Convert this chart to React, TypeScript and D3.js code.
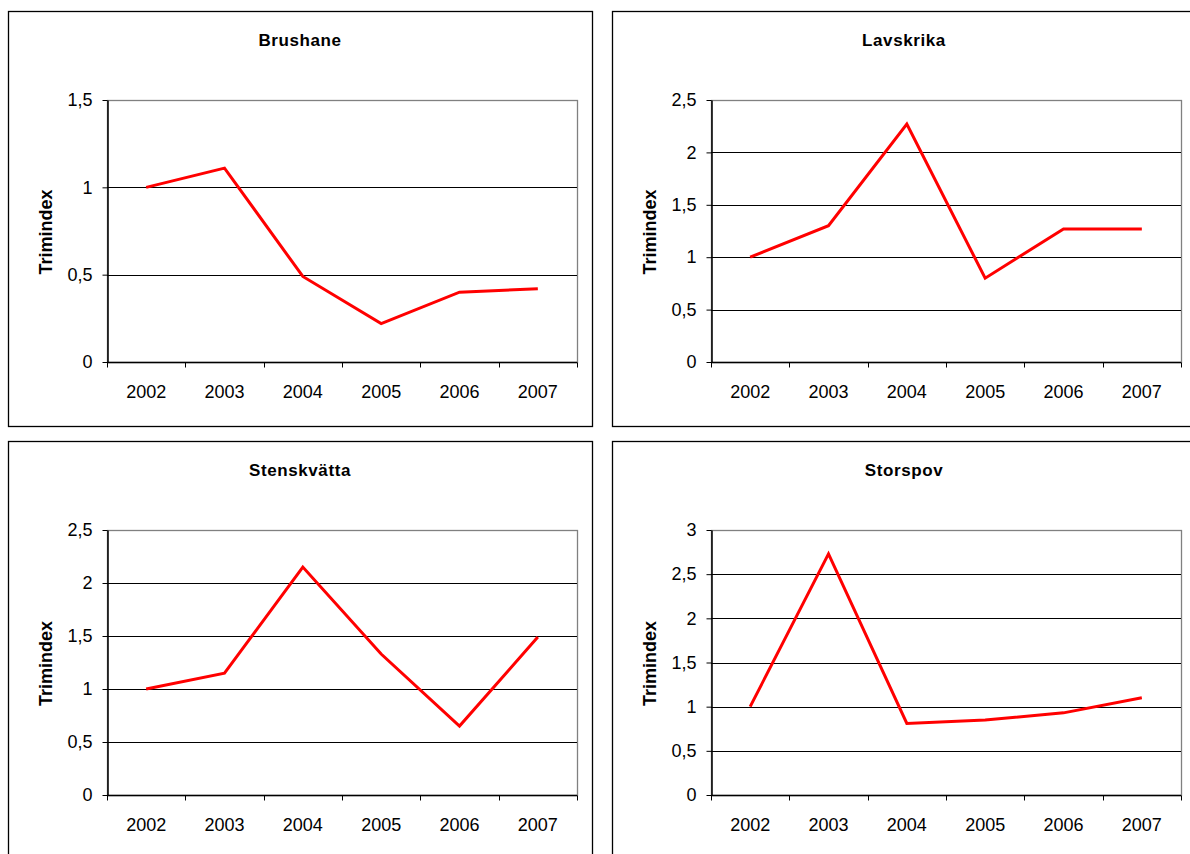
import * as d3 from "d3";
import {useEffect, useRef} from "react";

// values
const years = ["2002", "2003", "2004", "2005", "2006", "2007"];
const brushane = [1.0, 1.11, 0.49, 0.22, 0.40, 0.42];
const lavskrika = [1.0, 1.30, 2.27, 0.80, 1.27, 1.27];
const stenskvatta = [1.0, 1.15, 2.15, 1.33, 0.65, 1.49];
const storspov = [1.0, 2.73, 0.81, 0.85, 0.93, 1.10];

const brushaneTicks = [0, 0.5, 1, 1.5];
const lavskrikaTicks = [0, 0.5, 1, 1.5, 2, 2.5];
const stenskvattaTicks = [0, 0.5, 1, 1.5, 2, 2.5];
const storspovTicks = [0, 0.5, 1, 1.5, 2, 2.5, 3];

const FONT = "'Liberation Sans', Arial, sans-serif";

const panels = [
    {title: "Brushane", values: brushane, ticks: brushaneTicks, x: 8, y: 11, h: 415, plotH: 262},
    {title: "Lavskrika", values: lavskrika, ticks: lavskrikaTicks, x: 612, y: 11, h: 415, plotH: 262},
    {title: "Stenskvätta", values: stenskvatta, ticks: stenskvattaTicks, x: 8, y: 441, h: 440, plotH: 265},
    {title: "Storspov", values: storspov, ticks: storspovTicks, x: 612, y: 441, h: 440, plotH: 265},
];

const App = () => {
    const svgRef = useRef(null);

    useEffect(() => {
        if (!svgRef.current) return;
        const root = d3.select(svgRef.current);
        root.selectAll("*").remove();

        const chartW = 584;
        // plot area inside each chart box
        const plotLeft = 99, plotTop = 89, plotW = 470;
        const fmt = (v: number) => String(v).replace(".", ",");

        panels.forEach(p => {
            const g = root.append("g").attr("transform", `translate(${p.x},${p.y})`);

            // chart border
            g.append("rect")
                .attr("x", 0.5).attr("y", 0.5)
                .attr("width", chartW).attr("height", p.h)
                .attr("fill", "white")
                .attr("stroke", "black")
                .attr("stroke-width", 1.3);

            // title
            g.append("text")
                .attr("x", chartW / 2)
                .attr("y", 35)
                .attr("text-anchor", "middle")
                .attr("font-family", FONT)
                .attr("font-weight", "bold")
                .attr("font-size", 17)
                .attr("letter-spacing", 0.6)
                .text(p.title);

            const pg = g.append("g").attr("transform", `translate(${plotLeft},${plotTop})`);

            const xScale = d3.scaleBand<string>().domain(years).range([0, plotW]);
            const yMax = p.ticks[p.ticks.length - 1];
            const yScale = d3.scaleLinear().domain([0, yMax]).range([p.plotH, 0]);

            // plot area border (gray top & right)
            pg.append("rect")
                .attr("x", 0.5).attr("y", 0.5)
                .attr("width", plotW).attr("height", p.plotH)
                .attr("fill", "none")
                .attr("stroke", "#808080")
                .attr("stroke-width", 1.3);

            // gridlines
            pg.append("g")
                .selectAll("line")
                .data(p.ticks.filter(t => t > 0 && t < yMax))
                .enter()
                .append("line")
                .attr("x1", 0).attr("x2", plotW)
                .attr("y1", d => Math.round(yScale(d)) + 0.5)
                .attr("y2", d => Math.round(yScale(d)) + 0.5)
                .attr("stroke", "black")
                .attr("stroke-width", 1);

            // y axis
            const yAxis = pg.append("g")
                .attr("transform", "translate(0.5,0)")
                .call(d3.axisLeft(yScale)
                    .tickValues(p.ticks)
                    .tickSize(5)
                    .tickPadding(10)
                    .tickSizeOuter(0)
                    .tickFormat(d => fmt(d as number)));
            yAxis.select(".domain").attr("stroke", "black").attr("stroke-width", 1.5);
            yAxis.selectAll("line").attr("stroke", "black");
            yAxis.selectAll("text")
                .attr("font-family", FONT)
                .attr("font-size", 18)
                .attr("fill", "black");

            // x axis: ticks at category boundaries
            const xg = pg.append("g").attr("transform", `translate(0,${p.plotH + 0.5})`);
            xg.append("line")
                .attr("x1", 0).attr("x2", plotW)
                .attr("stroke", "black").attr("stroke-width", 1.5);
            const bounds = years.map(y => xScale(y) as number).concat([plotW]);
            xg.selectAll(".xtick")
                .data(bounds)
                .enter()
                .append("line")
                .attr("class", "xtick")
                .attr("x1", d => Math.round(d) + 0.5)
                .attr("x2", d => Math.round(d) + 0.5)
                .attr("y1", 0).attr("y2", 5)
                .attr("stroke", "black");
            xg.selectAll(".xlabel")
                .data(years)
                .enter()
                .append("text")
                .attr("class", "xlabel")
                .attr("x", d => (xScale(d) as number) + xScale.bandwidth() / 2)
                .attr("y", 35)
                .attr("text-anchor", "middle")
                .attr("font-family", FONT)
                .attr("font-size", 18)
                .text(d => d);

            // y axis title
            pg.append("text")
                .attr("transform", `translate(-55,${p.plotH / 2 + 1}) rotate(-90)`)
                .attr("text-anchor", "middle")
                .attr("font-family", FONT)
                .attr("font-weight", "bold")
                .attr("font-size", 18)
                .text("Trimindex");

            // data line
            const line = d3.line<number>()
                .x((_, i) => (xScale(years[i]) as number) + xScale.bandwidth() / 2)
                .y(d => yScale(d));
            pg.append("path")
                .datum(p.values)
                .attr("fill", "none")
                .attr("stroke", "#ff0000")
                .attr("stroke-width", 3)
                .attr("stroke-linejoin", "miter")
                .attr("d", line);
        });
    }, []);

    return <svg ref={svgRef} width={1190} height={854}
                style={{position: "absolute", left: 0, top: 0, background: "white"}}/>;
};

export default App;
